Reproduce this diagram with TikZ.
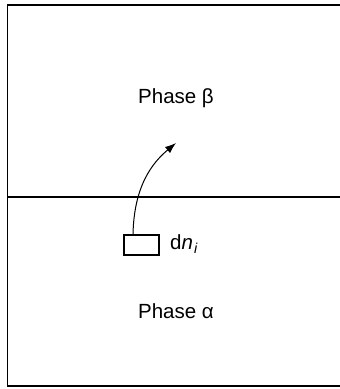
\documentclass[tikz,border=0pt]{standalone}
\usepackage{fontspec}
\setmainfont{Liberation Sans}
\usetikzlibrary{arrows.meta}
\begin{document}
\begin{tikzpicture}[x=1pt,y=-1pt,
  frame/.style={line width=1.8pt},
  interface/.style={line width=1.4pt},
  label/.style={font=\fontsize{20.5}{22}\selectfont, inner sep=0pt},
  element/.style={draw, line width=1.4pt, minimum width=35pt, minimum height=20pt, inner sep=0pt},
  transfer/.style={line width=1pt, -{Latex[length=11pt,width=8pt]}}]
\useasboundingbox (0,0) rectangle (340,389);
\draw[frame] (345,5) -- (7.5,5) -- (7.5,386) -- (345,386);
\draw[interface] (7.5,197) -- (345,197);
\node[label] (beta) at (176,98) {Phase β};
\node[label] (alpha) at (176,311) {Phase α};
\node[element] (box) at (141.5,245) {};
\node[label, anchor=west] (dn) at (170,244) {d\textit{n}\kern1pt\textsubscript{\textit{i}}};
\coordinate (tip) at (176,143);
\draw[transfer] ([xshift=-8.5pt]box.north) .. controls +(1,-48) and +(-24,20) .. (tip);
\end{tikzpicture}
\end{document}
